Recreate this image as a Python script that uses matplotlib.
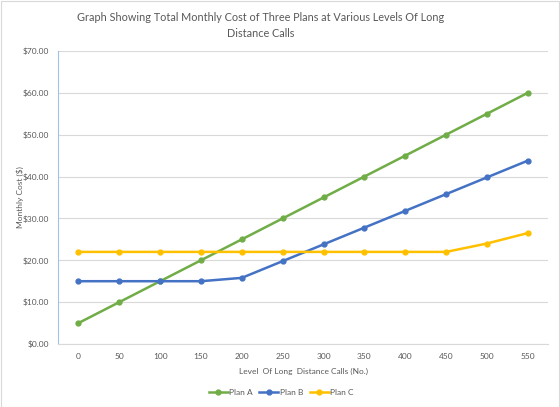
import numpy as np
import matplotlib.pyplot as plt
from matplotlib.ticker import FuncFormatter

plt.rcParams['font.family'] = ['Lato', 'DejaVu Sans']

calls = ['0', '50', '100', '150', '200', '250', '300', '350', '400', '450', '500', '550']
plan_a = [5, 10, 15, 20, 25, 30, 35, 40, 45, 50, 55, 60]
plan_b = [15, 15, 15, 15, 15.8, 19.8, 23.8, 27.8, 31.8, 35.8, 39.8, 43.8]
plan_c = [22, 22, 22, 22, 22, 22, 22, 22, 22, 22, 24, 26.5]

txt = '#595959'
fig = plt.figure(figsize=(5.6, 4.07), dpi=100)
fig.patches.append(plt.Rectangle((0.001, 0.001), 0.998, 0.997, transform=fig.transFigure,
                                 fill=False, edgecolor='#D9D9D9', lw=0.8))
ax = fig.add_axes([0.1036, 0.1548, 0.8754, 0.72])

x = np.arange(len(calls))
for vals, col, lab in [(plan_a, '#70AD47', 'Plan A'), (plan_b, '#4472C4', 'Plan B'),
                       (plan_c, '#FFC000', 'Plan C')]:
    ax.plot(x, vals, color=col, lw=1.8, marker='o', ms=3.5, label=lab, zorder=3)

ax.set_xlim(-0.5, len(calls) - 0.5)
ax.set_ylim(0, 70)
ax.set_yticks(np.arange(0, 71, 10))
ax.yaxis.set_major_formatter(FuncFormatter(lambda v, p: f'${v:.2f}'))
ax.set_xticks(x)
ax.set_xticklabels(calls)
ax.grid(axis='y', color='#D9D9D9', lw=0.8)
ax.set_axisbelow(True)
for s in ['top', 'right']:
    ax.spines[s].set_visible(False)
ax.spines['left'].set_color('#9DC3E6')
ax.spines['bottom'].set_color('#D9D9D9')
ax.tick_params(length=0, labelsize=6, colors=txt, pad=6.5)

ax.set_xlabel('Level  Of Long  Distance Calls (No.)', fontsize=6, color=txt)
ax.xaxis.set_label_coords(0.5, -0.083)
ax.set_ylabel('Monthly Cost ($)', fontsize=6, color=txt)
ax.yaxis.set_label_coords(-0.07, 0.5)
fig.text(0.466, 0.97, 'Graph Showing Total Monthly Cost of Three Plans at Various Levels Of Long\nDistance Calls',
         ha='center', va='top', fontsize=7.8, color=txt, linespacing=1.5)
fig.legend(loc='center', bbox_to_anchor=(0.502, 0.035), ncol=3, frameon=False,
           fontsize=6, labelcolor=txt, handlelength=2.3, columnspacing=0.8, handletextpad=0.15)

fig.savefig('out.png', dpi=100)
